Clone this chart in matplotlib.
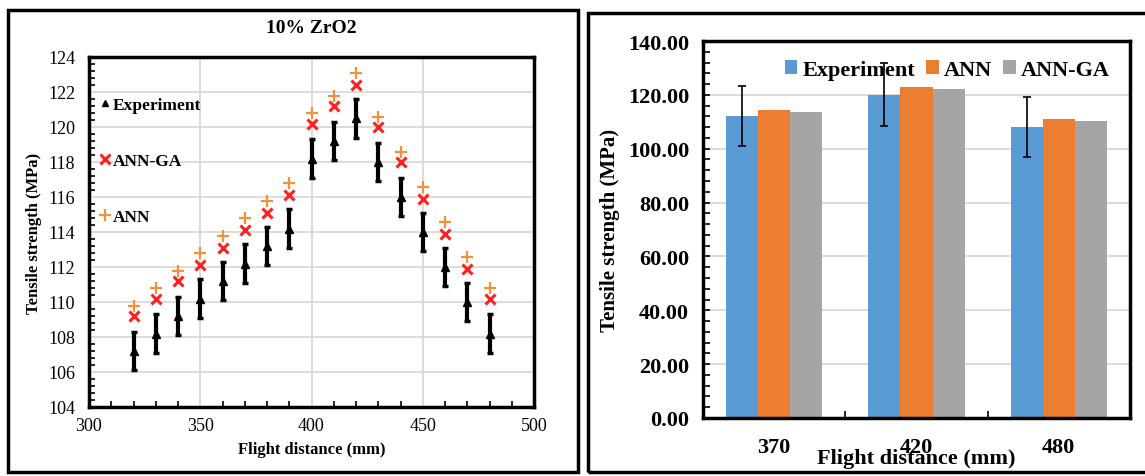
import matplotlib
matplotlib.use("Agg")
import matplotlib.pyplot as plt
from matplotlib.lines import Line2D
from matplotlib.patches import Rectangle
from matplotlib.ticker import MultipleLocator, FormatStrFormatter

plt.rcParams['font.family'] = ['Liberation Serif', 'DejaVu Serif']

# ---- Left panel data: tensile strength vs flight distance ----
distance = [320, 330, 340, 350, 360, 370, 380, 390, 400, 410, 420, 430, 440, 450, 460, 470, 480]
experiment = [107.2, 108.2, 109.2, 110.2, 111.2, 112.2, 113.2, 114.2, 118.2, 119.2, 120.5,
              118.0, 116.0, 114.0, 112.0, 110.0, 108.2]
experiment_err = [1.1] * 17
ann_ga = [109.2, 110.2, 111.2, 112.1, 113.1, 114.1, 115.1, 116.1, 120.2, 121.2, 122.4,
          120.0, 118.0, 115.9, 113.9, 111.9, 110.2]
ann = [109.8, 110.8, 111.8, 112.8, 113.8, 114.8, 115.8, 116.8, 120.8, 121.8, 123.1,
       120.6, 118.6, 116.6, 114.6, 112.6, 110.8]

# ---- Right panel data: selected distances ----
bar_categories = ['370', '420', '480']
bar_experiment = [112.2, 120.0, 108.1]
bar_experiment_err = [11.2, 11.7, 11.1]
bar_ann = [114.5, 122.8, 110.9]
bar_ann_ga = [113.8, 122.2, 110.2]

C_BLUE = '#5b9bd5'
C_ORANGE = '#ed7d31'
C_GRAY = '#a5a5a5'
C_RED = '#ff2020'
C_ANN = '#f0923a'
GRID = '#d9d9d9'

fig = plt.figure(figsize=(11.45, 4.77), dpi=100)

# panel frames
fig.patches.append(Rectangle((8 / 1145, 1 - 473 / 477), 570 / 1145, 462 / 477,
                             transform=fig.transFigure, fill=False, lw=2.5, ec='black'))
fig.patches.append(Rectangle((588 / 1145, 1 - 473 / 477), 600 / 1145, 459 / 477,
                             transform=fig.transFigure, fill=False, lw=2.5, ec='black'))

# ================= Left panel =================
ax1 = fig.add_axes([89 / 1145, 1 - 408 / 477, 445 / 1145, 350 / 477])
ax1.set_xlim(300, 500)
ax1.set_ylim(104, 124)
ax1.xaxis.set_major_locator(MultipleLocator(50))
ax1.xaxis.set_minor_locator(MultipleLocator(10))
ax1.yaxis.set_major_locator(MultipleLocator(2))
ax1.yaxis.set_minor_locator(MultipleLocator(0.4))
ax1.grid(True, which='major', color=GRID, lw=1.3, zorder=0)
ax1.set_axisbelow(True)
for s in ax1.spines.values():
    s.set_linewidth(2.5)
ax1.tick_params(which='both', direction='in', labelsize=13, width=1.2)
ax1.tick_params(which='major', length=0)
ax1.tick_params(which='minor', length=4)
ax1.tick_params(axis='x', pad=7)
ax1.tick_params(axis='y', pad=10)

ax1.errorbar(distance, experiment, yerr=experiment_err, fmt='^', color='black',
             ms=6, elinewidth=3, capsize=2.5, capthick=2.5, zorder=3)
ax1.plot(distance, ann_ga, 'x', color=C_RED, ms=7, mew=2.2, zorder=3)
ax1.plot(distance, ann, '+', color=C_ANN, ms=8, mew=1.6, zorder=3)

ax1.set_title('10% ZrO2', fontsize=14, fontweight='bold', pad=18)
ax1.set_xlabel('Flight distance (mm)', fontsize=12, fontweight='bold', labelpad=5)
ax1.set_ylabel('Tensile strength (MPa)', fontsize=12, fontweight='bold', labelpad=4)

left_handles = [
    Line2D([], [], ls='none', marker='^', color='black', ms=5),
    Line2D([], [], ls='none', marker='x', color=C_RED, ms=7, mew=2.2),
    Line2D([], [], ls='none', marker='+', color=C_ANN, ms=8, mew=1.6),
]
ax1.legend(left_handles, ['Experiment', 'ANN-GA', 'ANN'], loc='upper left',
           bbox_to_anchor=(-0.01, 0.93), frameon=False, handlelength=0.6,
           handletextpad=0.15, labelspacing=2.3, prop={'weight': 'bold', 'size': 12.5})

# ================= Right panel =================
ax2 = fig.add_axes([703 / 1145, 1 - 419 / 477, 427 / 1145, 377 / 477])
pos = list(range(len(bar_categories)))
w = 0.225
ax2.bar([p - w for p in pos], bar_experiment, w, color=C_BLUE, label='Experiment', zorder=2)
ax2.bar(pos, bar_ann, w, color=C_ORANGE, label='ANN', zorder=2)
ax2.bar([p + w for p in pos], bar_ann_ga, w, color=C_GRAY, label='ANN-GA', zorder=2)
ax2.errorbar([p - w for p in pos], bar_experiment, yerr=bar_experiment_err, fmt='none',
             ecolor='black', elinewidth=1.2, capsize=3, capthick=1.2, zorder=4)

ax2.set_xlim(-0.5, 2.5)
ax2.set_ylim(0, 140)
ax2.set_xticks(pos)
ax2.set_xticklabels(bar_categories)
ax2.xaxis.set_minor_locator(MultipleLocator(0.5))
ax2.yaxis.set_major_locator(MultipleLocator(20))
ax2.yaxis.set_minor_locator(MultipleLocator(4))
ax2.yaxis.set_major_formatter(FormatStrFormatter('%.2f'))
ax2.grid(True, axis='y', which='major', color=GRID, lw=1.3, zorder=0)
ax2.set_axisbelow(True)
for s in ax2.spines.values():
    s.set_linewidth(2.5)
ax2.tick_params(which='both', direction='in', width=1.2)
ax2.tick_params(which='major', length=5, labelsize=16, pad=10)
ax2.tick_params(axis='x', which='major', pad=14)
ax2.tick_params(which='minor', length=5)
for lab in ax2.get_xticklabels() + ax2.get_yticklabels():
    lab.set_fontweight('bold')

ax2.set_xlabel('Flight distance (mm)', fontsize=16, fontweight='bold', labelpad=-7)
ax2.set_ylabel('Tensile strength (MPa)', fontsize=15, fontweight='bold', labelpad=6)
ax2.legend(loc='upper right', bbox_to_anchor=(0.985, 0.985), ncol=3, frameon=False,
           handlelength=0.55, handleheight=0.55, handletextpad=0.25, columnspacing=0.5,
           prop={'weight': 'bold', 'size': 16}, borderaxespad=0.2)

fig.savefig('out.png', dpi=100)
